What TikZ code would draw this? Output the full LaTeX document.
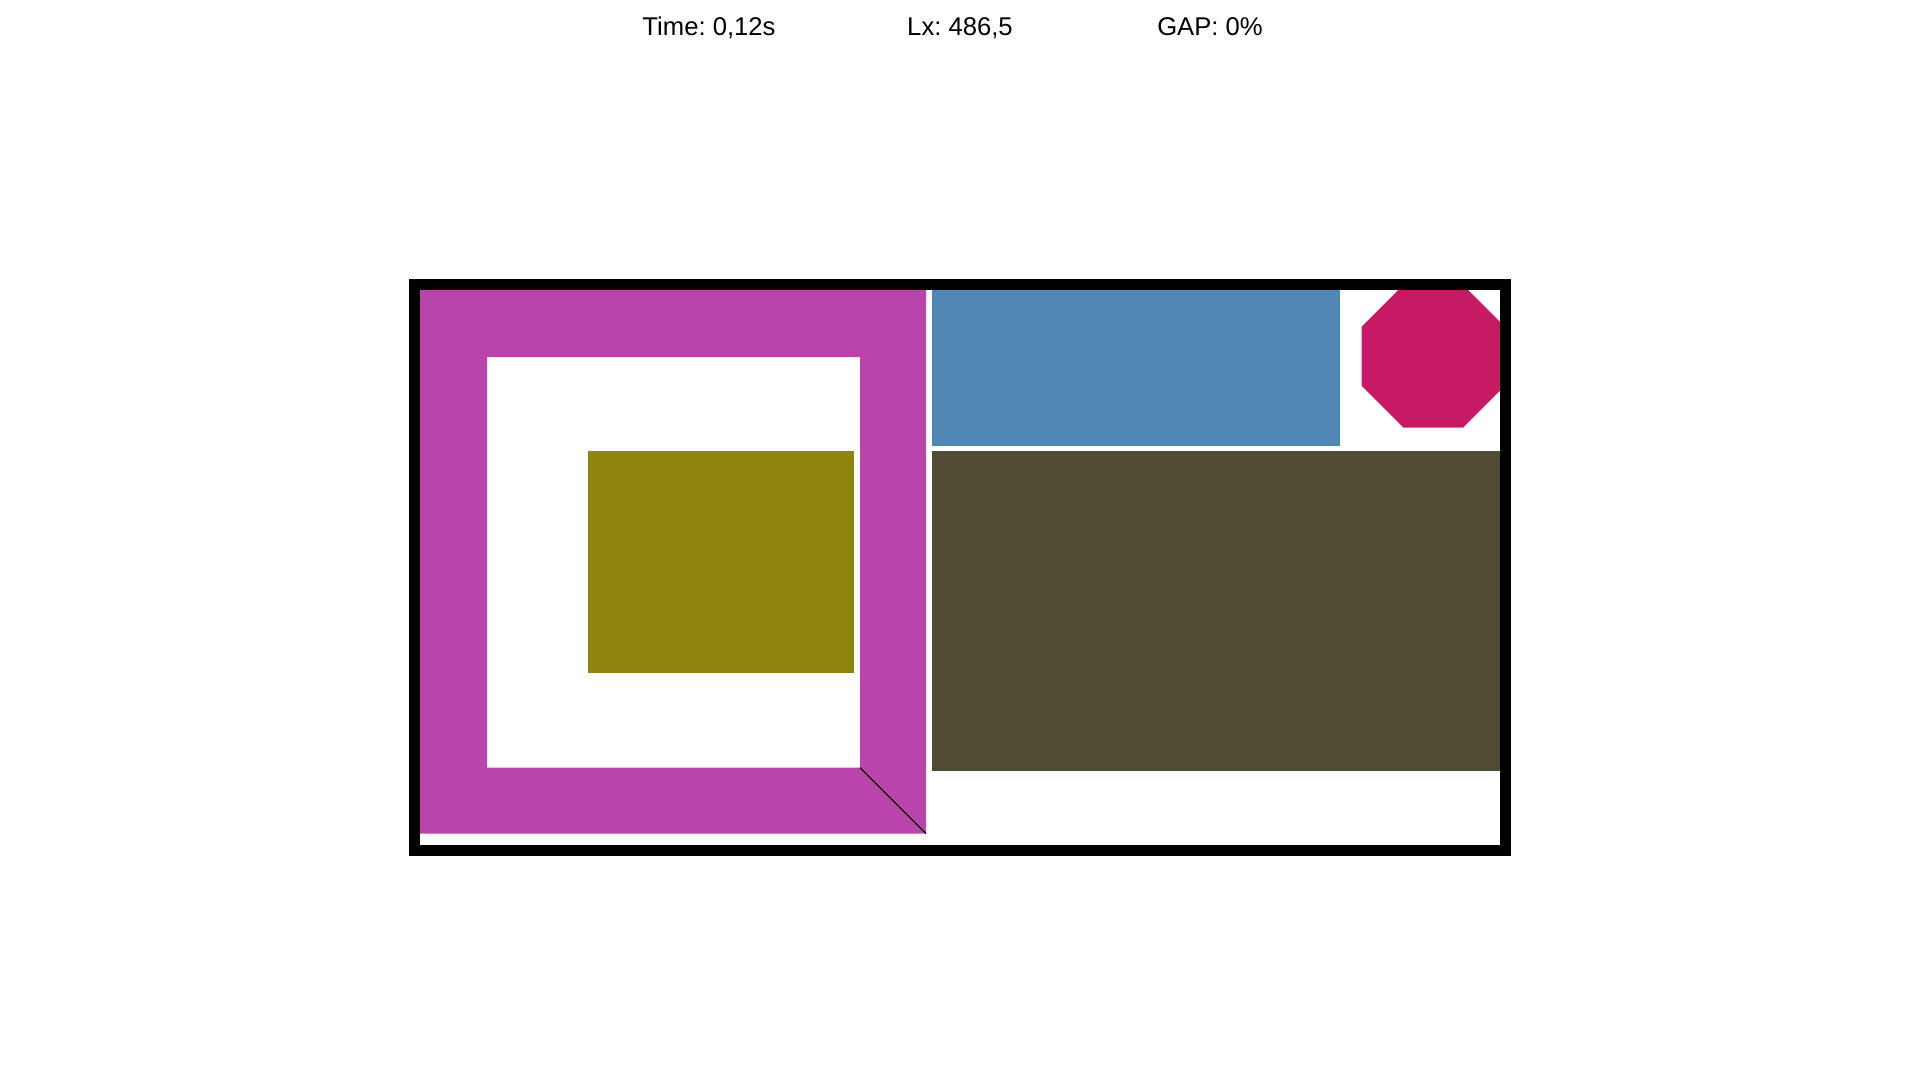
\documentclass[tikz,border=0pt]{standalone}
\usepackage{fontspec}
\setsansfont{Liberation Sans}
\usepackage{tikz}
\usetikzlibrary{positioning}
\definecolor{ringcol}{RGB}{184,70,170}
\definecolor{olivecol}{RGB}{142,132,14}
\definecolor{bluecol}{RGB}{79,135,181}
\definecolor{darkcol}{RGB}{80,75,51}
\definecolor{octacol}{RGB}{198,27,100}
\frenchspacing

\begin{document}
\begin{tikzpicture}[x=0.02cm, y=-0.02cm, font=\sffamily\fontsize{14.6}{16}\selectfont]
    \useasboundingbox (0,0) rectangle (1920,1080);
    % status line
    \node[anchor=base] (time) at (709,35) {Time: 0,12s};
    \node[anchor=base] (lx) at (960,35) {Lx: 486,5};
    \node[anchor=base] (gap) at (1210,35) {GAP: 0\%};
    % pieces
    \fill[ringcol, even odd rule] (420,290) rectangle (926,833.7) (487,357) rectangle (860,767.7);
    \draw[line width=0.6pt] (860,767.7) -- (926,833.7);
    \fill[olivecol] (588,451) rectangle (854,672.7);
    \fill[bluecol] (932,290) rectangle (1340,445.7);
    \fill[darkcol] (932,451) rectangle (1500,770.7);
    \fill[octacol] (1403.6,284.7) -- (1462.8,284.7) -- (1504.7,326.6) -- (1504.7,385.8)
        -- (1462.8,427.7) -- (1403.6,427.7) -- (1361.7,385.8) -- (1361.7,326.6) -- cycle;
    % container
    \draw[line width=0.22cm] (414.5,284.5) rectangle (1505.5,850.5);
\end{tikzpicture}
\end{document}
